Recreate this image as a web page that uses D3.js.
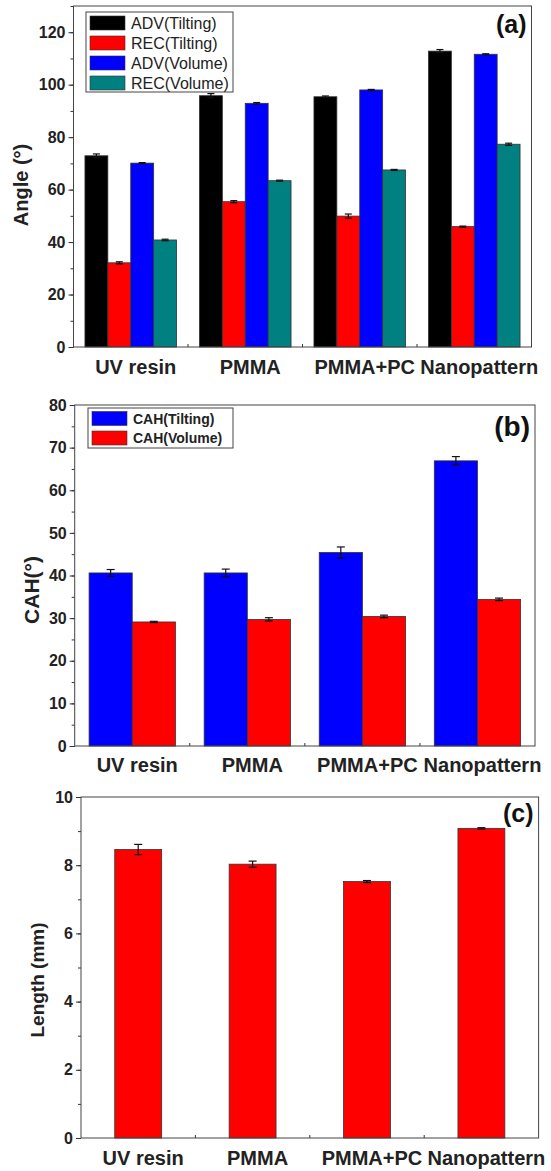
<!DOCTYPE html>
<html>
<head>
<meta charset="utf-8">
<script src="https://cdn.jsdelivr.net/npm/d3@7"></script>
<style>
  body { margin: 0; background: #fff; }
  svg { display: block; font-family: "Liberation Sans", Arial, sans-serif; }
</style>
</head>
<body>
<div id="chart"></div>
<script>
// categories shared by all three panels
const categories = ["UV resin", "PMMA", "PMMA+PC", "Nanopattern"];

// (a) advancing / receding angles
const angleSeries = ["ADV(Tilting)", "REC(Tilting)", "ADV(Volume)", "REC(Volume)"];
const advTilting = [72.9, 95.8, 95.4, 112.8];
const advTiltingErr = [0.7, 0.8, 0.3, 0.6];
const recTilting = [32.1, 55.4, 49.9, 45.9];
const recTiltingErr = [0.4, 0.4, 0.8, 0.2];
const advVolume = [70.1, 92.9, 98.0, 111.6];
const advVolumeErr = [0.2, 0.3, 0.2, 0.2];
const recVolume = [40.8, 63.4, 67.5, 77.3];
const recVolumeErr = [0.3, 0.2, 0.2, 0.4];

// (b) contact angle hysteresis
const cahSeries = ["CAH(Tilting)", "CAH(Volume)"];
const cahTilting = [40.6, 40.6, 45.4, 66.9];
const cahTiltingErr = [0.8, 0.9, 1.3, 1.0];
const cahVolume = [29.1, 29.7, 30.4, 34.4];
const cahVolumeErr = [0.15, 0.4, 0.3, 0.3];

// (c) length
const lengthSeries = ["Length"];
const lengthVals = [8.46, 8.03, 7.52, 9.08];
const lengthErr = [0.15, 0.09, 0.03, 0.02];

const svg = d3.select("#chart").append("svg")
  .attr("width", 551).attr("height", 1171);

function drawPanel(p) {
  const g = svg.append("g");
  const x0 = d3.scaleBand().domain(categories).range([p.left, p.right]);
  const bw = x0.bandwidth();
  const x1 = d3.scaleBand().domain(p.series).range([bw * p.pad, bw * (1 - p.pad)]);
  const y = d3.scaleLinear().domain([0, p.ymax]).range([p.bottom, p.top]);
  const color = d3.scaleOrdinal().domain(p.series).range(p.colors);

  // bars
  p.series.forEach((s, i) => {
    const vals = p.values[i], errs = p.errors[i];
    g.selectAll(null).data(categories).enter().append("rect")
      .attr("x", (c) => x0(c) + x1(s))
      .attr("y", (c, j) => y(vals[j]))
      .attr("width", x1.bandwidth())
      .attr("height", (c, j) => y(0) - y(vals[j]))
      .attr("fill", color(s))
      .attr("stroke", "#333").attr("stroke-width", 0.8);

    const eb = g.selectAll(null).data(categories).enter().append("g")
      .attr("stroke", "#111").attr("stroke-width", 1.2);
    const cx = (c) => x0(c) + x1(s) + x1.bandwidth() / 2;
    eb.append("line")
      .attr("x1", cx).attr("x2", cx)
      .attr("y1", (c, j) => y(vals[j] - errs[j]))
      .attr("y2", (c, j) => y(vals[j] + errs[j]));
    [1, -1].forEach((sg) => {
      eb.append("line")
        .attr("x1", (c) => cx(c) - p.cap).attr("x2", (c) => cx(c) + p.cap)
        .attr("y1", (c, j) => y(vals[j] + sg * errs[j]))
        .attr("y2", (c, j) => y(vals[j] + sg * errs[j]));
    });
  });

  // y axis: major + minor ticks
  const yMinor = g.append("g").attr("transform", `translate(${p.left},0)`)
    .call(d3.axisLeft(y).tickValues(d3.range(0, p.ymax + 0.001, p.minor)).tickSize(3).tickFormat(""));
  yMinor.select(".domain").remove();
  yMinor.selectAll("line").attr("stroke", "#333");
  const yAxis = g.append("g").attr("transform", `translate(${p.left},0)`)
    .call(d3.axisLeft(y).tickValues(d3.range(0, p.ymax + 0.001, p.major)).tickSize(5).tickPadding(3));
  yAxis.select(".domain").remove();
  yAxis.selectAll("line").attr("stroke", "#333");
  yAxis.selectAll("text")
    .attr("font-size", 16).attr("font-weight", "bold").attr("fill", "#222")
    .attr("font-family", "'Liberation Sans', Arial, sans-serif");

  // x ticks at group boundaries (inward)
  const bounds = categories.slice(1).map((c) => x0(c));
  g.selectAll(null).data(bounds).enter().append("line")
    .attr("x1", (d) => d).attr("x2", (d) => d)
    .attr("y1", p.bottom).attr("y2", p.bottom - 3)
    .attr("stroke", "#333");

  // frame
  g.append("rect")
    .attr("x", p.left).attr("y", p.top)
    .attr("width", p.right - p.left).attr("height", p.bottom - p.top)
    .attr("fill", "none").attr("stroke", "#444").attr("stroke-width", 1);

  // category labels
  g.selectAll(null).data(categories).enter().append("text")
    .attr("x", (c) => x0(c) + bw / 2 + 5)
    .attr("y", p.labelY)
    .attr("text-anchor", "middle")
    .attr("font-size", 20).attr("font-weight", "bold").attr("fill", "#222")
    .text((c) => c);

  // y title
  g.append("text")
    .attr("transform", `translate(${p.titleX},${p.titleY}) rotate(-90)`)
    .attr("text-anchor", "middle").attr("dominant-baseline", "central")
    .attr("font-size", p.titleSize).attr("font-weight", "bold").attr("fill", "#222")
    .text(p.title);

  // panel tag
  g.append("text")
    .attr("x", p.right - 5).attr("y", p.tagY)
    .attr("text-anchor", "end")
    .attr("font-size", p.tagSize).attr("font-weight", "bold").attr("fill", "#111")
    .text(p.tag);

  // legend
  if (p.legend) {
    const L = p.legend;
    g.append("rect")
      .attr("x", L.x).attr("y", L.y).attr("width", L.w).attr("height", L.h)
      .attr("fill", "#fff").attr("stroke", "#444").attr("stroke-width", 1);
    const items = g.selectAll(null).data(p.series).enter().append("g")
      .attr("transform", (d, i) => `translate(${L.x + 4},${L.y + L.first + i * L.step})`);
    items.append("rect")
      .attr("x", 0).attr("y", -L.sh / 2).attr("width", 35).attr("height", L.sh)
      .attr("fill", (d) => color(d)).attr("stroke", "#333").attr("stroke-width", 0.6);
    items.append("text")
      .attr("x", 41).attr("y", 0).attr("dominant-baseline", "central")
      .attr("font-size", L.fs).attr("font-weight", L.fw).attr("fill", "#222")
      .text((d) => d);
  }
}

drawPanel({
  series: angleSeries,
  values: [advTilting, recTilting, advVolume, recVolume],
  errors: [advTiltingErr, recTiltingErr, advVolumeErr, recVolumeErr],
  colors: ["#000000", "#ff0000", "#0000ff", "#008080"],
  left: 73.5, right: 531.5, top: 6, bottom: 347,
  ymax: 130, major: 20, minor: 10, pad: 0.1, cap: 3.5,
  labelY: 374, title: "Angle (°)", titleX: 21, titleY: 185, titleSize: 20,
  tag: "(a)", tagY: 33, tagSize: 25,
  legend: { x: 86, y: 12, w: 147, h: 80, first: 11, step: 20, sh: 14, fs: 16, fw: "normal" }
});

drawPanel({
  series: cahSeries,
  values: [cahTilting, cahVolume],
  errors: [cahTiltingErr, cahVolumeErr],
  colors: ["#0000ff", "#ff0000"],
  left: 74.7, right: 535, top: 405, bottom: 746,
  ymax: 80, major: 10, minor: 5, pad: 0.125, cap: 4,
  labelY: 772, title: "CAH(°)", titleX: 31, titleY: 590, titleSize: 21,
  tag: "(b)", tagY: 436, tagSize: 28,
  legend: { x: 88, y: 408, w: 145, h: 40, first: 10.5, step: 19.5, sh: 14, fs: 14, fw: "bold" }
});

drawPanel({
  series: lengthSeries,
  values: [lengthVals],
  errors: [lengthErr],
  colors: ["#ff0000"],
  left: 81, right: 538.6, top: 797, bottom: 1138,
  ymax: 10, major: 2, minor: 1, pad: 0.295, cap: 4,
  labelY: 1165, title: "Length (mm)", titleX: 37, titleY: 980, titleSize: 19,
  tag: "(c)", tagY: 822, tagSize: 25,
  legend: null
});
</script>
</body>
</html>
